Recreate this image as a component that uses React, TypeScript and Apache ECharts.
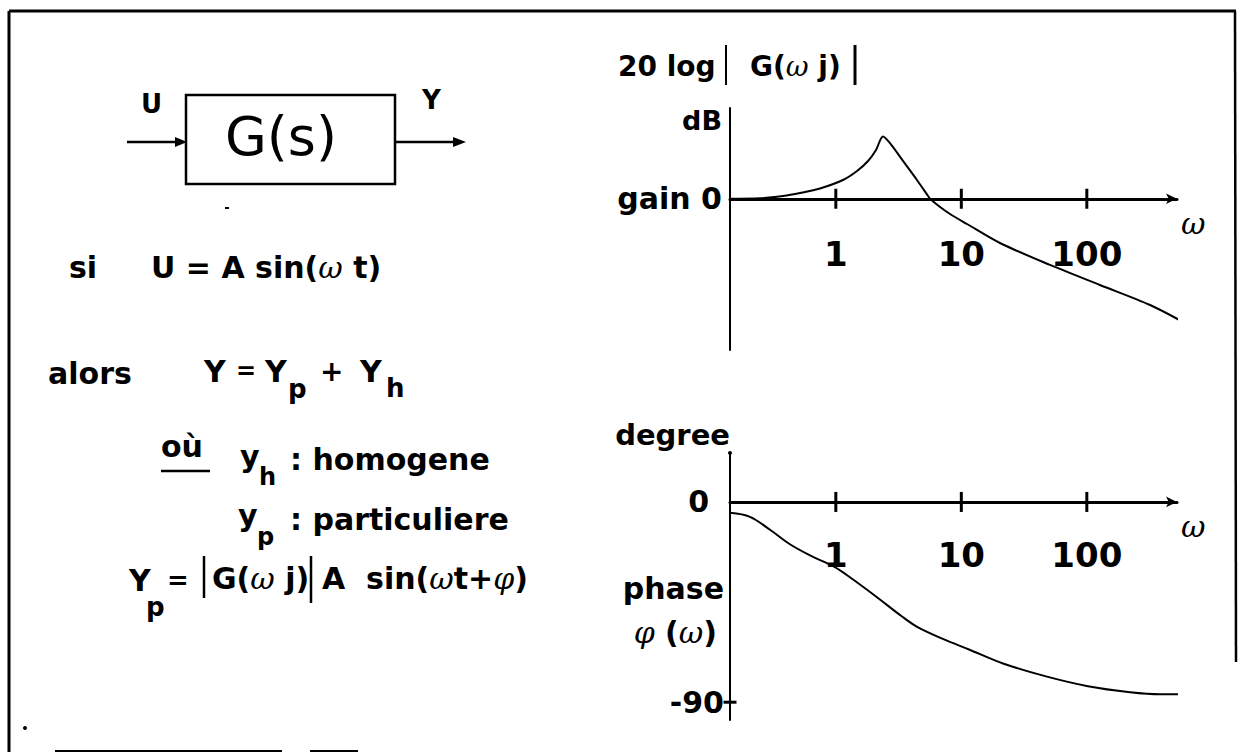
import React, { useEffect, useRef } from 'react';
import * as echarts from 'echarts';

// Angular frequency axis (rad/s, logarithmic)
const W_MIN = 0.1435;
const W_MAX = 523;
const W_TICKS = [1, 10, 100];

// Gain curve: 20 log|G(ωj)| in dB
const GAIN_W = [0.1435, 0.249, 0.38, 0.519, 0.748, 1.14, 1.476, 1.806, 2.091, 2.377, 2.7, 3.43, 4.43, 5.43, 5.63, 6.77, 8.13, 11.1, 20.3, 50.9, 127, 319, 585];
const GAIN_DB = [0, 0.12, 0.73, 1.52, 2.71, 4.96, 7.34, 9.98, 12.9, 16.46, 14.7, 10.0, 4.96, 0.73, 0, -2.18, -4.03, -6.68, -11.7, -17.5, -22.8, -28.1, -32.6];

// Phase curve φ(ω) in degrees
const PHASE_W = [0.1435, 0.207, 0.299, 0.431, 0.623, 0.967, 1.32, 2.09, 3.37, 4.52, 7.28, 11.5, 21.5, 47.3, 102, 221, 384, 716];
const PHASE_DEG = [-4.9, -6.7, -12.5, -19.0, -24.0, -29.1, -34.2, -42.5, -51.5, -56.4, -61.8, -66.3, -72.6, -78.4, -82.8, -85.5, -86.4, -86.4];
const PHASE_MARK = -90;

const INK = '#000';
const SANS = '"DejaVu Sans", "Liberation Sans", sans-serif';
const SERIF = '"DejaVu Serif", "Liberation Serif", serif';

function label(
  x: number,
  y: number,
  text: string,
  size: number,
  o: { align?: string; weight?: string } = {}
) {
  return {
    type: 'text',
    x,
    y,
    silent: true,
    style: {
      text,
      fill: INK,
      fontFamily: SANS,
      fontSize: size,
      fontWeight: o.weight ?? 'bold',
      align: o.align ?? 'left',
      verticalAlign: 'middle',
      rich: {
        w: { fontFamily: SERIF, fontStyle: 'italic', fontWeight: 'normal', fontSize: size, fill: INK },
      },
    },
  };
}

function seg(x1: number, y1: number, x2: number, y2: number, w = 2) {
  return { type: 'line', silent: true, shape: { x1, y1, x2, y2 }, style: { stroke: INK, lineWidth: w } };
}

function head(points: number[][]) {
  return { type: 'polygon', silent: true, shape: { points }, style: { fill: INK } };
}

function freqAxis(gridIndex: number) {
  return {
    type: 'log',
    gridIndex,
    logBase: 10,
    min: W_MIN,
    max: W_MAX,
    axisLine: {
      show: true,
      onZero: true,
      symbol: ['none', 'arrow'],
      symbolSize: [8, 11],
      lineStyle: { color: INK, width: 3 },
    },
    axisTick: { show: false },
    splitLine: { show: false },
    axisLabel: { show: false },
    name: 'ω',
    nameLocation: 'end',
    nameGap: 4,
    nameMoveOverlap: false,
    nameTextStyle: {
      color: INK,
      fontFamily: SERIF,
      fontStyle: 'italic',
      fontSize: 30,
      align: 'left',
      verticalAlign: 'top',
      padding: [10, 0, 0, 0],
    },
  };
}

// tick marks on the ω axis, labelled with their frequency
function freqTicks(index: number, distance: number) {
  return {
    type: 'scatter',
    xAxisIndex: index,
    yAxisIndex: index,
    data: W_TICKS.map((w) => [w, 0]),
    symbol: 'rect',
    symbolSize: [3, 20],
    itemStyle: { color: INK, opacity: 1 },
    silent: true,
    label: {
      show: true,
      position: 'bottom',
      distance,
      color: INK,
      opacity: 1,
      fontFamily: SANS,
      fontWeight: 'bold',
      fontSize: 34,
      formatter: (p: any) => String(p.value[0]),
    },
  };
}

export default function App() {
  const ref = useRef<HTMLDivElement>(null);

  useEffect(() => {
    if (!ref.current) return;
    const chart = echarts.init(ref.current, undefined, { renderer: 'svg' });

    const graphic = [
      // page frame
      seg(9, 11, 1236, 11, 3),
      seg(9, 11, 9, 752, 3),
      seg(1235, 11, 1236, 662, 2.5),
      seg(55, 751, 282, 751, 2),
      seg(310, 751, 358, 751, 2),
      { type: 'circle', silent: true, shape: { cx: 25, cy: 728, r: 2 }, style: { fill: INK } },

      // block diagram
      { type: 'rect', silent: true, shape: { x: 186, y: 95, width: 209, height: 89 }, style: { fill: 'none', stroke: INK, lineWidth: 2.5 } },
      seg(127, 142, 180, 142, 2.5),
      head([[175, 137], [187, 142], [175, 147]]),
      seg(395, 142, 458, 142, 2.5),
      head([[453, 137], [466, 142], [453, 147]]),
      label(141, 104, 'U', 26),
      label(422, 100, 'Y', 26),
      label(281, 136, 'G(s)', 54, { align: 'center', weight: 'normal' }),
      { type: 'rect', silent: true, shape: { x: 225, y: 207, width: 4, height: 2 }, style: { fill: INK } },

      // input / response
      label(69, 267, 'si', 30),
      label(151, 267, 'U = A sin({w|ω} t)', 30),
      label(48, 373, 'alors', 30),
      label(204, 371, 'Y', 30),
      label(236, 371, '=', 24),
      label(265, 371, 'Y', 30),
      label(288, 389, 'p', 26),
      label(320, 371, '+', 28),
      label(360, 371, 'Y', 30),
      label(386, 388, 'h', 26),

      label(161, 446, 'où', 30),
      seg(161, 471, 210, 471, 2.5),
      label(240, 456, 'y', 30),
      label(259, 477, 'h', 24),
      label(290, 459, ': homogene', 30),
      label(238, 515, 'y', 30),
      label(257, 537, 'p', 24),
      label(290, 519, ': particuliere', 30),

      label(129, 580, 'Y', 30),
      label(146, 607, 'p', 26),
      label(167, 580, '=', 26),
      seg(204, 556, 204, 598, 2.5),
      label(212, 578, 'G({w|ω} j)', 30),
      seg(311, 556, 311, 603, 2.5),
      label(322, 578, 'A  sin({w|ω}t+{w|φ})', 30),

      // Bode plot annotations
      label(618, 66, '20 log', 28),
      seg(726, 45, 726, 85, 2),
      label(750, 66, 'G({w|ω} j)', 28),
      seg(855, 45, 855, 85, 3),
      label(724, 588, 'phase', 30, { align: 'right' }),
      label(717, 632, '{w|φ} ({w|ω})', 30, { align: 'right' }),
      { type: 'circle', silent: true, shape: { cx: 730, cy: 453, r: 2 }, style: { fill: INK } },
    ];

    chart.setOption({
      animation: false,
      backgroundColor: '#fff',
      grid: [
        { left: 730, top: 108, width: 447, height: 242, outerBoundsMode: 'none' },
        { left: 730, top: 453, width: 447, height: 267, outerBoundsMode: 'none' },
      ],
      xAxis: [freqAxis(0), freqAxis(1)],
      yAxis: [
        {
          type: 'value',
          gridIndex: 0,
          min: -40,
          max: 24,
          interval: 8,
          axisLine: { show: true, onZero: false, lineStyle: { color: INK, width: 2 } },
          axisTick: { show: false },
          splitLine: { show: false },
          axisLabel: {
            margin: 8,
            color: INK,
            fontFamily: SANS,
            fontWeight: 'bold',
            fontSize: 30,
            formatter: (v: number) => (v === 0 ? 'gain 0' : ''),
          },
          name: 'dB',
          nameLocation: 'end',
          nameGap: -12,
          nameMoveOverlap: false,
          nameTextStyle: {
            color: INK,
            fontFamily: SANS,
            fontWeight: 'bold',
            fontSize: 27,
            align: 'right',
            verticalAlign: 'middle',
            padding: [0, 8, 0, 0],
          },
        },
        {
          type: 'value',
          gridIndex: 1,
          min: -98,
          max: 22,
          interval: 2,
          axisLine: { show: true, onZero: false, lineStyle: { color: INK, width: 2 } },
          axisTick: { show: false },
          splitLine: { show: false },
          axisLabel: {
            margin: 6,
            formatter: (v: number) => (v === 0 ? '{z|0}' : v === PHASE_MARK ? '{n|-90}' : ''),
            rich: {
              z: { color: INK, fontFamily: SANS, fontWeight: 'bold', fontSize: 30, padding: [0, 15, 0, 0] },
              n: { color: INK, fontFamily: SANS, fontWeight: 'bold', fontSize: 30 },
            },
          },
          name: 'degree',
          nameLocation: 'end',
          nameGap: 18,
          nameMoveOverlap: false,
          nameTextStyle: {
            color: INK,
            fontFamily: SANS,
            fontWeight: 'bold',
            fontSize: 29,
            align: 'right',
            verticalAlign: 'middle',
          },
        },
      ],
      series: [
        {
          type: 'line',
          xAxisIndex: 0,
          yAxisIndex: 0,
          data: GAIN_W.map((w, i) => [w, GAIN_DB[i]]),
          showSymbol: false,
          symbol: 'none',
          smooth: 0.3,
          clip: false,
          lineStyle: { color: INK, width: 2 },
        },
        {
          type: 'line',
          xAxisIndex: 1,
          yAxisIndex: 1,
          data: PHASE_W.map((w, i) => [w, PHASE_DEG[i]]),
          showSymbol: false,
          symbol: 'none',
          smooth: 0.35,
          clip: false,
          lineStyle: { color: INK, width: 2 },
        },
        freqTicks(0, 28),
        freqTicks(1, 26),
        {
          type: 'scatter',
          xAxisIndex: 1,
          yAxisIndex: 1,
          data: [[W_MIN, PHASE_MARK]],
          symbol: 'rect',
          symbolSize: [13, 3],
          itemStyle: { color: INK, opacity: 1 },
          silent: true,
        },
      ],
      graphic: { elements: graphic },
    });

    return () => chart.dispose();
  }, []);

  return (
    <div
      ref={ref}
      style={{ position: 'absolute', left: 0, top: 0, width: 1244, height: 753, background: '#fff' }}
    />
  );
}
